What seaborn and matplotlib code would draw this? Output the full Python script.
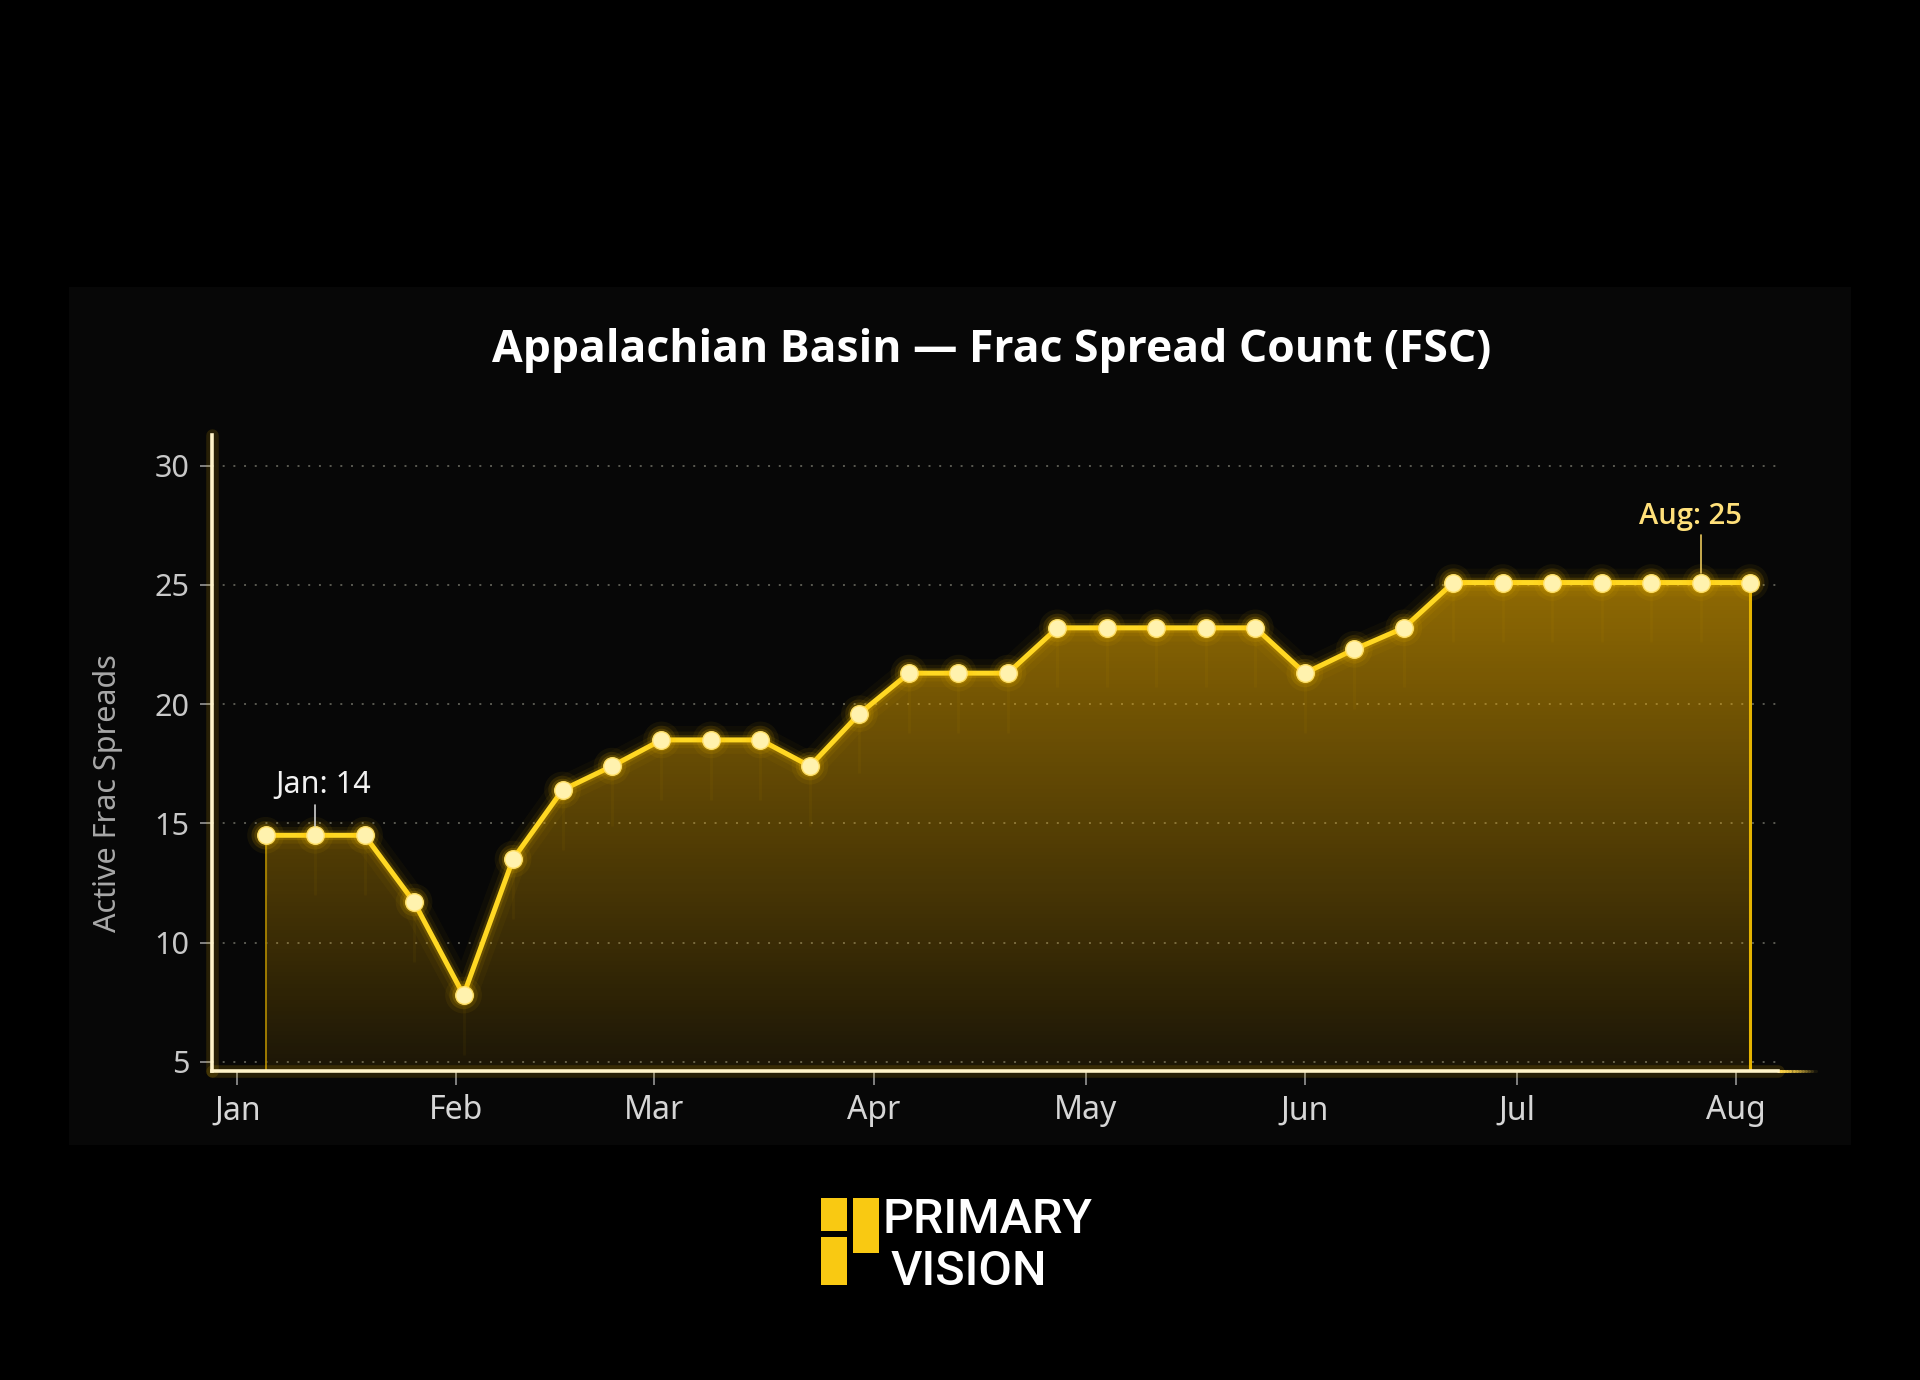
import numpy as np
import pandas as pd
import seaborn as sns
import matplotlib.pyplot as plt
import matplotlib.dates as mdates
from matplotlib.patches import Rectangle

# weekly Appalachian frac spread count
week_dates = ["2025-01-05", "2025-01-12", "2025-01-19", "2025-01-26", "2025-02-02",
              "2025-02-09", "2025-02-16", "2025-02-23", "2025-03-02", "2025-03-09",
              "2025-03-16", "2025-03-23", "2025-03-30", "2025-04-06", "2025-04-13",
              "2025-04-20", "2025-04-27", "2025-05-04", "2025-05-11", "2025-05-18",
              "2025-05-25", "2025-06-01", "2025-06-08", "2025-06-15", "2025-06-22",
              "2025-06-29", "2025-07-06", "2025-07-13", "2025-07-20", "2025-07-27",
              "2025-08-03"]
frac_spreads = [14.5, 14.5, 14.5, 11.7, 7.8, 13.5, 16.4, 17.4, 18.5, 18.5,
                18.5, 17.4, 19.6, 21.3, 21.3, 21.3, 23.2, 23.2, 23.2, 23.2,
                23.2, 21.3, 22.3, 23.2, 25.1, 25.1, 25.1, 25.1, 25.1, 25.1,
                25.1]
month_starts = ["2025-01-01", "2025-02-01", "2025-03-01", "2025-04-01",
                "2025-05-01", "2025-06-01", "2025-07-01", "2025-08-01"]
month_labels = ["Jan", "Feb", "Mar", "Apr", "May", "Jun", "Jul", "Aug"]
y_ticks = [5, 10, 15, 20, 25, 30]

df = pd.DataFrame({"week": pd.to_datetime(week_dates), "fsc": frac_spreads})

sns.set_style("dark", rc={"axes.facecolor": "none", "figure.facecolor": "black",
                          "text.color": "white"})
plt.rcParams["font.family"] = ["Noto Sans", "DejaVu Sans"]
BOLD_FONT = ["Open Sans", "Lato", "DejaVu Sans"]

GOLD = "#FFC400"
fig = plt.figure(figsize=(19.2, 13.8), dpi=100)
fig.patch.set_facecolor("black")
fig.add_artist(Rectangle((0.036, 0.170), 0.928, 0.622, transform=fig.transFigure,
                         facecolor="#070707", edgecolor="none", zorder=-10))

ax = fig.add_axes([0.1104, 0.224, 0.8156, 0.461])
ymin, ymax = 4.62, 31.3

# gradient fill under the line
poly = ax.fill_between(df["week"], df["fsc"], ymin, facecolor="none", edgecolor="none")
xnum = mdates.date2num(df["week"])
alpha = np.linspace(0.09, 0.58, 256)
img = np.zeros((256, 1, 4))
img[..., 0], img[..., 1], img[..., 2] = 0.96, 0.70, 0.0
img[:, 0, 3] = alpha
im = ax.imshow(img, extent=[xnum[0], xnum[-1], ymin, df["fsc"].max()], origin="lower",
               aspect="auto", zorder=1, interpolation="bicubic")
im.set_clip_path(poly.get_paths()[0], transform=ax.transData)

ax.vlines(df["week"], df["fsc"] - 2.5, df["fsc"], colors=GOLD, alpha=0.045, lw=2, zorder=2)
ax.vlines(df["week"].iloc[0], ymin, frac_spreads[0], color="#A88300", lw=1.3, zorder=2)
ax.vlines(df["week"].iloc[-1], ymin, frac_spreads[-1], color="#E5B300", lw=2.2, zorder=2)

# glowing line
for lw, a in [(20, 0.035), (12, 0.07), (7, 0.15)]:
    ax.plot(df["week"], df["fsc"], color=GOLD, lw=lw, alpha=a,
            solid_capstyle="round", zorder=3)
sns.lineplot(data=df, x="week", y="fsc", color="#FFD823", lw=3.6, zorder=4, ax=ax)
for s, a in [(700, 0.06), (420, 0.10), (260, 0.16)]:
    sns.scatterplot(data=df, x="week", y="fsc", s=s, color=GOLD, alpha=a,
                    edgecolor="none", zorder=5, ax=ax)
sns.scatterplot(data=df, x="week", y="fsc", s=160, color="#FFF2AE",
                edgecolor="#FFE066", linewidth=1.0, zorder=6, ax=ax)

# callouts
jx, jy = df["week"].iloc[1], frac_spreads[1]
ax.plot([jx, jx], [jy + 0.4, jy + 1.25], color="#d0d0d0", lw=1.2, zorder=6)
ax.text(jx + pd.Timedelta(days=1.2), jy + 2.1, "Jan: 14", ha="center", va="center",
        fontsize=22, color="#f2f2f2", zorder=7)
gx, gy = df["week"].iloc[29], frac_spreads[29]
ax.plot([gx, gx], [gy + 0.4, gy + 2.0], color="#E8C65A", lw=1.2, zorder=6)
ax.text(gx - pd.Timedelta(days=1.5), gy + 2.75, "Aug: 25", ha="center", va="center",
        fontsize=21, color="#FFE07A", fontweight="semibold", family=BOLD_FONT, zorder=7)

ax.set_xlim(pd.Timestamp("2024-12-28 10:00"), pd.Timestamp("2025-08-06 22:00"))
ax.set_ylim(ymin, ymax)
ax.set_xticks(pd.to_datetime(month_starts))
ax.set_xticklabels(month_labels)
ax.set_yticks(y_ticks)

ax.yaxis.grid(True, linestyle=(0, (1, 4.5)), color="#5a5a52", lw=1.4)
ax.xaxis.grid(False)
ax.set_axisbelow(True)

for s in ["top", "right"]:
    ax.spines[s].set_visible(False)
for s in ["left", "bottom"]:
    ax.spines[s].set_color("#FFF3C8")
    ax.spines[s].set_linewidth(2.6)
    ax.spines[s].set_zorder(8)
ax.plot([0, 0], [0, 1], transform=ax.transAxes, color=GOLD, lw=9, alpha=0.13, clip_on=False)
ax.plot([0, 1], [0, 0], transform=ax.transAxes, color=GOLD, lw=9, alpha=0.13, clip_on=False)
for k in range(12):
    ax.plot([1 + k * 0.002, 1 + (k + 1) * 0.002], [0, 0], transform=ax.transAxes,
            color="#FFD54A", lw=2.2, alpha=0.9 * (1 - k / 12), clip_on=False)

ax.tick_params(axis="x", length=10, width=1.3, color="#8a8a8a", labelsize=23,
               labelcolor="#d6d6d6", pad=7, bottom=True)
ax.tick_params(axis="y", length=9, width=1.3, color="#8a8a8a", labelsize=22,
               labelcolor="#c8c8c8", pad=7, left=True)
ax.set_xlabel("")
ax.set_ylabel("Active Frac Spreads", fontsize=22, color="#a8a8a8")
ax.yaxis.set_label_coords(-0.057, 0.437)

fig.text(0.5167, 0.746, "Appalachian Basin \u2014 Frac Spread Count (FSC)", ha="center",
         va="center", fontsize=32, fontweight="bold", family=BOLD_FONT, color="white")

# logo
W, H = 1920, 1380
for (x0, y0, x1, y1) in [(821, 1198, 847, 1231), (821, 1237, 847, 1285), (853, 1198, 879, 1253)]:
    fig.add_artist(Rectangle((x0 / W, 1 - y1 / H), (x1 - x0) / W, (y1 - y0) / H,
                             transform=fig.transFigure, facecolor="#F9C912", edgecolor="none"))
fig.text(883 / W, 1 - 1233 / H, "PRIMARY", fontsize=35, fontweight="medium",
         family=["Roboto", "DejaVu Sans"], color="white", va="baseline")
fig.text(891 / W, 1 - 1285 / H, "VISION", fontsize=35, fontweight="medium",
         family=["Roboto", "DejaVu Sans"], color="white", va="baseline")

plt.savefig("out.png", dpi=100, facecolor="black")
